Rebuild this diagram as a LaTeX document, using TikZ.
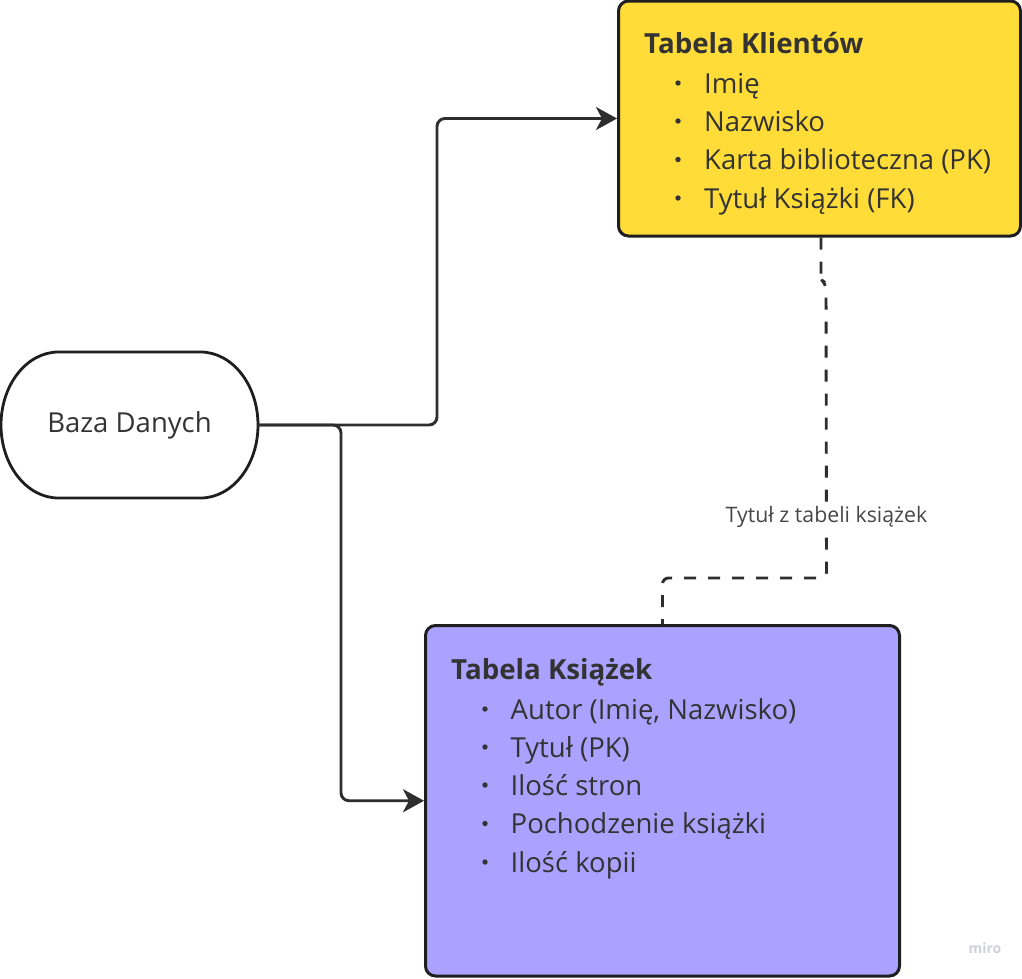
\documentclass[tikz,border=0pt]{standalone}
\usepackage{fontspec}
\setmainfont{Open Sans}
\usetikzlibrary{arrows.meta}
\definecolor{ink}{HTML}{333333}
\definecolor{edgec}{HTML}{1E1E1E}
\definecolor{linec}{HTML}{2E2E2E}
\definecolor{yel}{HTML}{FFDC37}
\definecolor{purp}{HTML}{ABA2FF}
\definecolor{wmc}{HTML}{CFCFDB}
\tikzset{
  box/.style={draw=edgec, line width=3pt, rounded corners=10pt, inner sep=0pt},
  ttl/.style={anchor=base west, inner sep=0pt, text=ink, font=\fontsize{27.7}{33}\selectfont\bfseries},
  itm/.style={anchor=base west, inner sep=0pt, text=ink, font=\fontsize{27.5}{33}\selectfont},
  bul/.style={circle, fill=ink, inner sep=0pt, minimum size=5.4pt},
  conn/.style={draw=linec, line width=2.9pt, rounded corners=8pt, -{Stealth[length=21pt, width=23pt, inset=6pt]}},
  dashline/.style={draw=linec, line width=2.9pt, dash pattern=on 12pt off 12pt, rounded corners=6pt},
  lbl/.style={fill=white, text=ink!90, inner xsep=1pt, inner ysep=3pt, font=\fontsize{21.3}{25}\selectfont}
}
\begin{document}
\begin{tikzpicture}[x=1pt,y=-1pt]
\useasboundingbox (0,0) rectangle (1022,978);
% database node
\node[minimum width=257pt, minimum height=146pt, inner sep=0pt, text=ink, font=\fontsize{27.5}{33}\selectfont] (db) at (129.5,425) {Baza Danych};
\draw[draw=edgec, line width=2.8pt] (58.5,352) -- (200.5,352)
  arc[start angle=-90, end angle=90, x radius=57.5, y radius=73]
  -- (58.5,498)
  arc[start angle=90, end angle=270, x radius=57.5, y radius=73] -- cycle;
% boxes
\node[box, fill=yel, minimum width=402pt, minimum height=235pt] (kl) at (819.5,118.5) {};
\node[box, fill=purp, minimum width=474pt, minimum height=350.5pt] (kb) at (662.5,800.75) {};
% top box text
\node[ttl] (klt) at (644,53) {Tabela Klientów};
\node[bul] (klb1) at (678,83) {};
\node[itm] (kli1) at (704,93) {Imię};
\node[bul] (klb2) at (678,121) {};
\node[itm] (kli2) at (704,131) {Nazwisko};
\node[bul] (klb3) at (678,159.5) {};
\node[itm] (kli3) at (704,169.5) {Karta biblioteczna (PK)};
\node[bul] (klb4) at (678,198) {};
\node[itm] (kli4) at (704,208) {Tytuł Książki (FK)};
% bottom box text
\node[ttl] (kbt) at (451,679) {Tabela Książek};
\node[bul] (kbb1) at (485,709) {};
\node[itm] (kbi1) at (510.5,719) {Autor (Imię, Nazwisko)};
\node[bul] (kbb2) at (485,747) {};
\node[itm] (kbi2) at (510.5,757) {Tytuł (PK)};
\node[bul] (kbb3) at (485,785) {};
\node[itm] (kbi3) at (510.5,795) {Ilość stron};
\node[bul] (kbb4) at (485,823.5) {};
\node[itm] (kbi4) at (510.5,833.5) {Pochodzenie książki};
\node[bul] (kbb5) at (485,862) {};
\node[itm] (kbi5) at (510.5,872) {Ilość kopii};
% connectors
\draw[conn] (db.east) -- (437,425) |- (kl.west);
\draw[conn] (db.east) -- (341,425) |- (kb.west);
\draw[dashline] ([xshift=1.5pt]kl.south) -- ++(0,42) -- ++(5,4) -- (826.5,578) -- (662.5,578) -- (kb.north);
\node[lbl] (lab) at (826.5,517) {Tytuł z tabeli książek};
% watermark
\node[text=wmc, font=\fontsize{14}{16}\selectfont\bfseries] (wm) at (985,948) {miro};
\end{tikzpicture}
\end{document}
